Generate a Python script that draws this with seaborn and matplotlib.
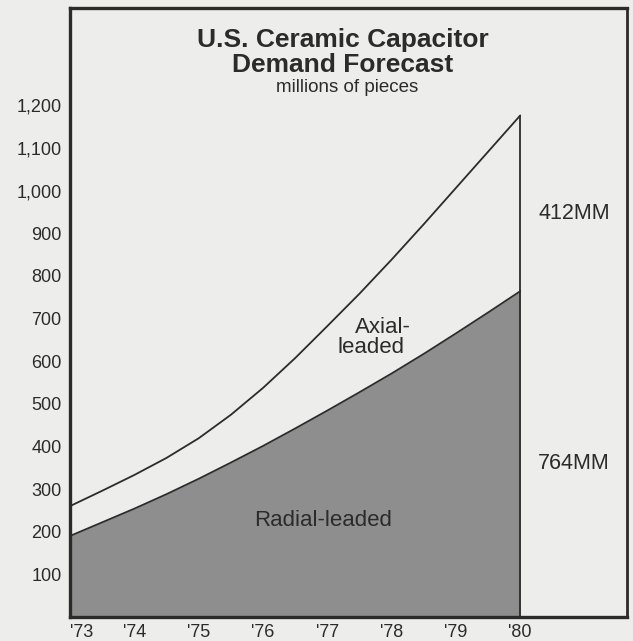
import numpy as np
import pandas as pd
import seaborn as sns
import matplotlib.pyplot as plt

# half-year readings, millions of pieces
YEARS = [1973, 1973.5, 1974, 1974.5, 1975, 1975.5, 1976, 1976.5,
         1977, 1977.5, 1978, 1978.5, 1979, 1979.5, 1980]
RADIAL = [190, 222, 254, 288, 324, 362, 401, 442, 484, 527, 571, 617, 665, 714, 764]
TOTAL = [260, 296, 333, 373, 419, 474, 537, 607, 682, 758, 838, 921, 1006, 1091, 1176]

TICK_YEARS = [1973, 1974, 1975, 1976, 1977, 1978, 1979, 1980]
YEAR_LABELS = ["'73", "'74", "'75", "'76", "'77", "'78", "'79", "'80"]
Y_TICKS = [100, 200, 300, 400, 500, 600, 700, 800, 900, 1000, 1100, 1200]

BG = '#ededeb'
FILL = '#8e8e8e'
INK = '#2b2b2b'

sns.set_style('white')
plt.rcParams['font.family'] = ['Liberation Sans', 'DejaVu Sans']

df = pd.DataFrame({'year': YEARS, 'radial': RADIAL, 'total': TOTAL})

fig = plt.figure(figsize=(6.33, 6.41), dpi=100, facecolor=BG)
ax = fig.add_axes([70 / 633, 1 - 617 / 641, 557 / 633, 609 / 641])
ax.set_facecolor(BG)

ax.fill_between(df['year'], 0, df['radial'], color=FILL, linewidth=0)
sns.lineplot(data=df, x='year', y='radial', ax=ax, color=INK, linewidth=1.3)
sns.lineplot(data=df, x='year', y='total', ax=ax, color=INK, linewidth=1.3)
ax.vlines(YEARS[-1], 0, TOTAL[-1], color=INK, linewidth=1.3)

ax.set_xlim(1973, 1981.66)
ax.set_ylim(0, 1428)
ax.set_xticks(TICK_YEARS)
ax.set_xticklabels(YEAR_LABELS)
ax.set_yticks(Y_TICKS)
ax.set_yticklabels([f'{v:,}' for v in Y_TICKS])
ax.tick_params(length=0, labelsize=13, labelcolor=INK)
ax.tick_params(axis='y', pad=6)
ax.tick_params(axis='x', pad=5)
ax.get_xticklabels()[0].set_horizontalalignment('left')
ax.set_xlabel('')
ax.set_ylabel('')

for side in ['left', 'top', 'bottom']:
    ax.spines[side].set_linewidth(2.4)
    ax.spines[side].set_color(INK)
ax.spines['right'].set_linewidth(2.0)
ax.spines['right'].set_color(INK)

ax.text(0.49, 0.947, 'U.S. Ceramic Capacitor', transform=ax.transAxes,
        ha='center', va='center', fontsize=19, fontweight='bold', color=INK)
ax.text(0.49, 0.907, 'Demand Forecast', transform=ax.transAxes,
        ha='center', va='center', fontsize=19, fontweight='bold', color=INK)
ax.text(0.497, 0.869, 'millions of pieces', transform=ax.transAxes,
        ha='center', va='center', fontsize=13.5, color=INK)

ax.text(1980.28, 945, '412MM', ha='left', va='center', fontsize=15.5, color=INK)
ax.text(1980.28, 361, '764MM', ha='left', va='center', fontsize=15.5, color=INK)
ax.text(1977.87, 680, 'Axial-', ha='center', va='center', fontsize=16, color=INK)
ax.text(1977.68, 631, 'leaded', ha='center', va='center', fontsize=16, color=INK)
ax.text(1976.94, 227, 'Radial-leaded', ha='center', va='center', fontsize=16, color=INK)

fig.savefig('out.png', dpi=100, facecolor=BG)
